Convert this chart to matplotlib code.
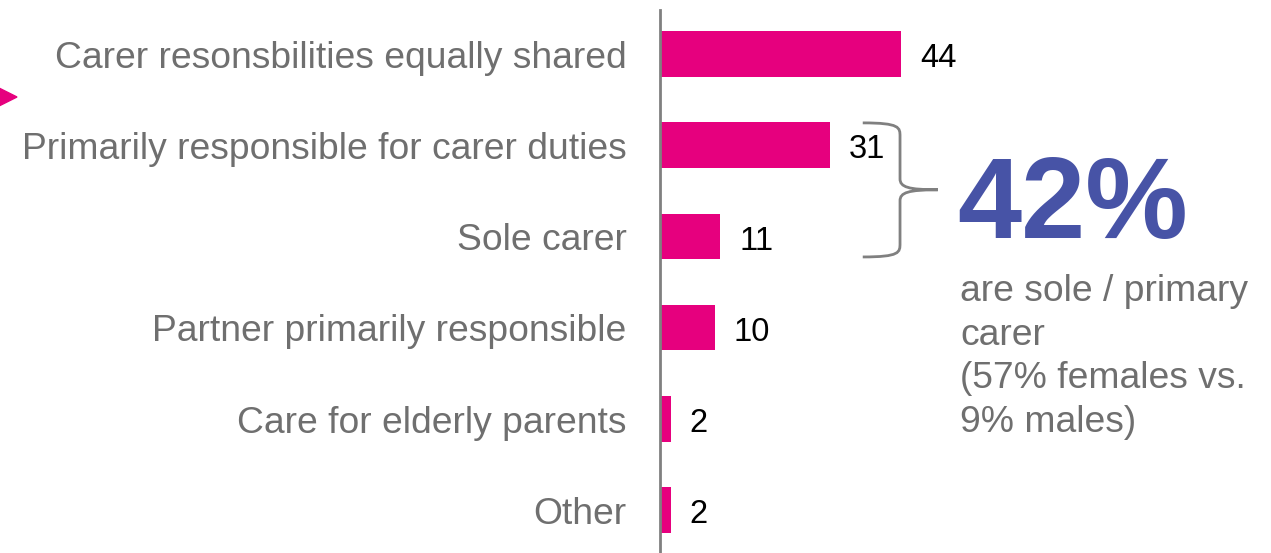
import matplotlib
matplotlib.use('Agg')

import matplotlib.pyplot as plt
from matplotlib.path import Path
from matplotlib.patches import PathPatch, Polygon

plt.rcParams['font.family'] = ['Liberation Sans', 'DejaVu Sans']

categories = ['Carer resonsbilities equally shared',
              'Primarily responsible for carer duties',
              'Sole carer',
              'Partner primarily responsible',
              'Care for elderly parents',
              'Other']
values = [44, 31, 11, 10, 2, 2]

headline = '42%'
note = 'are sole / primary\ncarer\n(57% females vs.\n9% males)'

PINK = '#e6007e'
GREY_TXT = '#6f6f6f'
GREY_LINE = '#808080'
BLUE = '#4753a6'

W, H = 1271, 553
fig = plt.figure(figsize=(W / 100, H / 100), dpi=100)
ax = fig.add_axes([660 / W, 0, 600 / W, 1 - 10 / H])

pos = list(range(len(values)))
ax.barh(pos, values, height=0.5, color=PINK)
ax.set_xlim(0, 600 / 5.48)
ax.set_ylim(5.47, -0.48)

# value labels, baseline a little below the bar centre
for p, v in zip(pos, values):
    ax.annotate(str(v), (v, p), xytext=(13.5, -9.5), textcoords='offset points',
                ha='left', va='baseline', fontsize=23.5, color='black')

for p, c in zip(pos, categories):
    ax.annotate(c, (0, p), xytext=(-24, -10), textcoords='offset points',
                ha='right', va='baseline', fontsize=26.8, color=GREY_TXT,
                annotation_clip=False)

for s in ['top', 'right', 'bottom']:
    ax.spines[s].set_visible(False)
ax.spines['left'].set_color(GREY_LINE)
ax.spines['left'].set_linewidth(2)
ax.set_xticks([])
ax.set_yticks([])

# curly brace grouping "primarily responsible" and "sole carer"
x0, x1, x2 = 37.0, 43.8, 50.7
yt, ym, yb = 0.757, 1.49, 2.226
verts = [(x0, yt), (x1, yt), (x1, yt + 0.05), (x1, yt + 0.15),
         (x1, ym - 0.12),
         (x1, ym - 0.03), (x1 + 1.5, ym), (x2, ym),
         (x1 + 1.5, ym), (x1, ym + 0.03), (x1, ym + 0.12),
         (x1, yb - 0.15),
         (x1, yb - 0.05), (x1, yb), (x0, yb)]
codes = [Path.MOVETO, Path.CURVE4, Path.CURVE4, Path.CURVE4,
         Path.LINETO,
         Path.CURVE4, Path.CURVE4, Path.CURVE4,
         Path.CURVE4, Path.CURVE4, Path.CURVE4,
         Path.LINETO,
         Path.CURVE4, Path.CURVE4, Path.CURVE4]
ax.add_patch(PathPatch(Path(verts, codes), fill=False, edgecolor=GREY_LINE,
                       lw=2, clip_on=False))

fig.text(957 / W, 1 - 238 / H, headline, fontsize=83, fontweight='bold',
         color=BLUE, ha='left', va='baseline')
# multi-line baseline alignment anchors on the last line
fig.text(960 / W, 1 - 432 / H, note, fontsize=26.8, color=GREY_TXT,
         ha='left', va='baseline', linespacing=1.32)

# small pointer on the left edge
fig.patches.append(Polygon([(-3 / W, 1 - 87 / H), (-3 / W, 1 - 107 / H),
                            (17 / W, 1 - 97 / H)], closed=True,
                           transform=fig.transFigure, color=PINK))

fig.savefig('out.png', dpi=100)
